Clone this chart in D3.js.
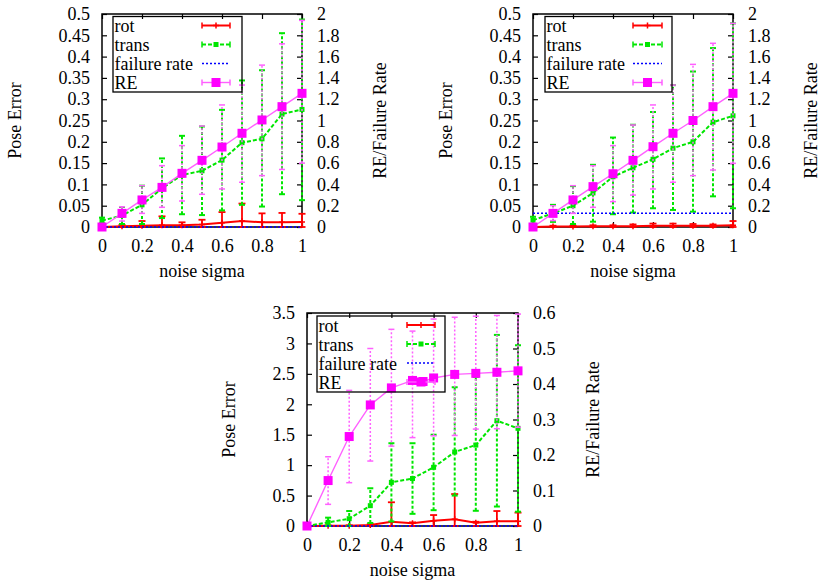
<!DOCTYPE html>
<html><head><meta charset="utf-8">
<script src="https://cdn.jsdelivr.net/npm/d3@7"></script>
<style>html,body{margin:0;padding:0;background:#fff;} svg{display:block;}</style>
</head><body><svg id="c" width="820" height="587"></svg>
<script>
// ---------- data ----------
const noiseSigma = [0, 0.1, 0.2, 0.3, 0.4, 0.5, 0.6, 0.7, 0.8, 0.9, 1.0];
const xTicks = [0, 0.2, 0.4, 0.6, 0.8, 1.0];
const xTickLabels = ["0", "0.2", "0.4", "0.6", "0.8", "1"];
const yTicksA = [0, 0.05, 0.1, 0.15, 0.2, 0.25, 0.3, 0.35, 0.4, 0.45, 0.5];
const yTickLabelsA = ["0", "0.05", "0.1", "0.15", "0.2", "0.25", "0.3", "0.35", "0.4", "0.45", "0.5"];
const y2TicksA = [0, 0.2, 0.4, 0.6, 0.8, 1.0, 1.2, 1.4, 1.6, 1.8, 2.0];
const y2TickLabelsA = ["0", "0.2", "0.4", "0.6", "0.8", "1", "1.2", "1.4", "1.6", "1.8", "2"];
const yTicksC = [0, 0.5, 1, 1.5, 2, 2.5, 3, 3.5];
const yTickLabelsC = ["0", "0.5", "1", "1.5", "2", "2.5", "3", "3.5"];
const y2TicksC = [0, 0.1, 0.2, 0.3, 0.4, 0.5, 0.6];
const y2TickLabelsC = ["0", "0.1", "0.2", "0.3", "0.4", "0.5", "0.6"];
const legendLabels = ["rot", "trans", "failure rate", "RE"];

// panel 1 (top left)
const rot1 = [0, 0.0015, 0.003, 0.004, 0.004, 0.006, 0.010, 0.014, 0.011, 0.011, 0.012];
const rot1Low = [0, 0, 0, 0, 0, 0, 0, 0, 0, 0, 0];
const rot1High = [0, 0.005, 0.014, 0.025, 0.011, 0.017, 0.035, 0.055, 0.032, 0.033, 0.031];
const trans1 = [0.015, 0.027, 0.052, 0.091, 0.122, 0.132, 0.157, 0.198, 0.207, 0.265, 0.276];
const trans1Low = [0.008, 0.007, 0.007, 0.021, 0.030, 0.028, 0.039, 0.052, 0.048, 0.077, 0.063];
const trans1High = [0.022, 0.047, 0.097, 0.161, 0.214, 0.236, 0.275, 0.344, 0.368, 0.455, 0.487];
const fail1 = [0, 0, 0, 0, 0, 0, 0, 0, 0, 0, 0];
const re1 = [0, 0.128, 0.254, 0.372, 0.504, 0.626, 0.751, 0.88, 1.005, 1.13, 1.255];
const re1Low = [0, 0.056, 0.128, 0.185, 0.244, 0.307, 0.357, 0.42, 0.482, 0.54, 0.6];
const re1High = [0, 0.19, 0.388, 0.576, 0.764, 0.948, 1.146, 1.333, 1.52, 1.72, 1.94];

// panel 2 (top right)
const rot2 = [0, 0.001, 0.001, 0.0015, 0.002, 0.002, 0.003, 0.003, 0.003, 0.003, 0.004];
const rot2Low = [0, 0, 0, 0, 0, 0, 0, 0, 0, 0, 0];
const rot2High = [0, 0.003, 0.003, 0.004, 0.004, 0.006, 0.008, 0.008, 0.007, 0.006, 0.014];
const trans2 = [0.016, 0.032, 0.05, 0.08, 0.118, 0.139, 0.159, 0.185, 0.2, 0.246, 0.261];
const trans2Low = [0.007, 0.012, 0.007, 0.0125, 0.03, 0.034, 0.044, 0.04, 0.036, 0.072, 0.044];
const trans2High = [0.024, 0.052, 0.096, 0.146, 0.21, 0.24, 0.27, 0.333, 0.365, 0.42, 0.478];
const fail2 = [0.128, 0.128, 0.128, 0.128, 0.128, 0.128, 0.128, 0.128, 0.128, 0.128, 0.128];
const re2 = [0, 0.128, 0.254, 0.379, 0.50, 0.626, 0.754, 0.88, 1.0, 1.13, 1.255];
const re2Low = [0, 0.06, 0.128, 0.185, 0.238, 0.3, 0.357, 0.42, 0.482, 0.535, 0.598];
const re2High = [0, 0.2, 0.388, 0.576, 0.764, 0.958, 1.146, 1.333, 1.527, 1.725, 1.912];

// panel 3 (bottom)
const rot3 = [0, 0.005, 0.005, 0.016, 0.071, 0.044, 0.088, 0.11, 0.055, 0.08, 0.08];
const rot3Low = [0, 0, 0, 0, 0, 0, 0, 0, 0, 0, 0];
const rot3High = [0, 0.01, 0.012, 0.03, 0.39, 0.06, 0.18, 0.525, 0.07, 0.246, 0.22];
const trans3 = [0, 0.06, 0.12, 0.334, 0.717, 0.78, 0.964, 1.216, 1.33, 1.73, 1.605];
const trans3Low = [0, 0, 0, 0.05, 0.075, 0.2, 0.26, 0.5, 0.25, 0.32, 0.235];
const trans3High = [0, 0.137, 0.246, 0.62, 1.36, 1.36, 1.50, 2.28, 2.45, 3.14, 2.97];
const fail3 = [0, 0, 0, 0, 0, 0, 0, 0, 0, 0, 0];
const re3X = [0, 0.1, 0.2, 0.3, 0.4, 0.5, 0.55, 0.6, 0.7, 0.8, 0.9, 1.0];
const re3 = [0, 0.128, 0.252, 0.341, 0.389, 0.41, 0.407, 0.417, 0.427, 0.430, 0.433, 0.437];
const re3Low = [0, 0.061, 0.122, 0.183, 0.225, 0.249, 0.407, 0.254, 0.255, 0.273, 0.274, 0.278];
const re3High = [0, 0.195, 0.382, 0.5, 0.554, 0.549, 0.407, 0.583, 0.588, 0.591, 0.593, 0.597];

// ---------- drawing ----------
const svg = d3.select('#c');
const FONT = '"Liberation Serif","Times New Roman",Times,serif';
const FS = 18;
const RED = '#ff0000', GREEN = '#00e600', BLUE = '#0000ff', MAG = '#ff00ff', MAGL = '#ff60ff';

function zip(xs, m, lo, hi) { return xs.map((xv, i) => ({x: xv, y: m[i], lo: lo ? lo[i] : m[i], hi: hi ? hi[i] : m[i]})); }

function drawPanel(cfg, d) {
  const x = d3.scaleLinear().domain([0, 1]).range([cfg.left, cfg.right]);
  const y = d3.scaleLinear().domain([0, cfg.yMax]).range([cfg.bottom, cfg.top]);
  const y2 = d3.scaleLinear().domain([0, cfg.y2Max]).range([cfg.bottom, cfg.top]);
  const g = svg.append('g');

  const styleAxis = (a) => {
    a.select('.domain').remove();
    a.selectAll('line').attr('stroke', '#000').attr('stroke-width', 1.2);
    a.selectAll('text').attr('font-family', FONT).attr('font-size', FS).attr('fill', '#000');
  };
  g.append('g').attr('transform', `translate(0,${cfg.bottom})`)
    .call(d3.axisBottom(x).tickValues(xTicks).tickFormat((v, i) => xTickLabels[i]).tickSizeInner(-5).tickSizeOuter(0).tickPadding(12))
    .call(styleAxis);
  g.append('g').attr('transform', `translate(0,${cfg.top})`)
    .call(d3.axisTop(x).tickValues(xTicks).tickFormat('').tickSizeInner(-5).tickSizeOuter(0))
    .call(styleAxis);
  g.append('g').attr('transform', `translate(${cfg.left},0)`)
    .call(d3.axisLeft(y).tickValues(cfg.yTicks).tickFormat((v, i) => cfg.yTickLabels[i]).tickSizeInner(-5).tickSizeOuter(0).tickPadding(12))
    .call(styleAxis);
  g.append('g').attr('transform', `translate(${cfg.right},0)`)
    .call(d3.axisRight(y2).tickValues(cfg.y2Ticks).tickFormat((v, i) => cfg.y2TickLabels[i]).tickSizeInner(-5).tickSizeOuter(0).tickPadding(15))
    .call(styleAxis);

  // axis titles
  g.append('text').attr('x', (cfg.left + cfg.right) / 2).attr('y', cfg.bottom + 50)
    .attr('text-anchor', 'middle').attr('font-family', FONT).attr('font-size', FS).text('noise sigma');
  g.append('text').attr('transform', `translate(${cfg.yLabelX + 6},${(cfg.top + cfg.bottom) / 2}) rotate(-90)`)
    .attr('text-anchor', 'middle').attr('font-family', FONT).attr('font-size', FS).text('Pose Error');
  g.append('text').attr('transform', `translate(${cfg.y2LabelX + 6},${(cfg.top + cfg.bottom) / 2}) rotate(-90)`)
    .attr('text-anchor', 'middle').attr('font-family', FONT).attr('font-size', FS).text('RE/Failure Rate');

  const plot = g.append('g');

  function series(pts, ys, st) {
    const sg = plot.append('g');
    if (st.err) {
      pts.forEach(p => {
        if (p.hi === p.lo) return;
        sg.append('line').attr('x1', x(p.x)).attr('x2', x(p.x)).attr('y1', ys(p.lo)).attr('y2', ys(p.hi))
          .attr('stroke', st.errColor).attr('stroke-width', st.errWidth).attr('stroke-dasharray', st.errDash || null);
        [p.lo, p.hi].forEach(v => {
          sg.append('line').attr('x1', x(p.x) - st.cap).attr('x2', x(p.x) + st.cap).attr('y1', ys(v)).attr('y2', ys(v))
            .attr('stroke', st.errColor).attr('stroke-width', st.errWidth);
        });
      });
    }
    sg.append('path').datum(pts)
      .attr('d', d3.line().x(p => x(p.x)).y(p => ys(p.y)))
      .attr('fill', 'none').attr('stroke', st.color).attr('stroke-width', st.width)
      .attr('stroke-dasharray', st.dash || null);
    if (st.marker) pts.forEach(p => st.marker(sg, x(p.x), ys(p.y)));
  }

  const plusMarker = (s, cx, cy) => {
    s.append('path').attr('d', `M${cx - 3},${cy}H${cx + 3}M${cx},${cy - 3}V${cy + 3}`).attr('stroke', RED).attr('stroke-width', 1.5);
  };
  const smallSq = (s, cx, cy) => {
    s.append('rect').attr('x', cx - 2.5).attr('y', cy - 2.5).attr('width', 5).attr('height', 5).attr('fill', GREEN);
  };
  const bigSq = (s, cx, cy) => {
    s.append('rect').attr('x', cx - 4.5).attr('y', cy - 4.5).attr('width', 9).attr('height', 9).attr('fill', MAG);
  };

  const stRot = {color: RED, width: 2, err: true, errColor: RED, errWidth: 1.8, cap: 3.5, marker: plusMarker};
  const stTrans = {color: GREEN, width: 2, dash: '4,2', err: true, errColor: GREEN, errWidth: 2, errDash: '3,2', cap: 3, marker: smallSq};
  const stFail = {color: BLUE, width: 1.5, dash: '2,2'};
  const stRE = {color: MAGL, width: 1.4, err: true, errColor: MAGL, errWidth: 1.5, errDash: '2,2', cap: 3, marker: bigSq};

  // border first, series over it
  g.insert('rect', ':first-child').attr('x', cfg.left).attr('y', cfg.top).attr('width', cfg.right - cfg.left).attr('height', cfg.bottom - cfg.top)
    .attr('fill', 'none').attr('stroke', '#000').attr('stroke-width', 1.5);

  series(d.rot, y, stRot);
  series(d.trans, y, stTrans);
  series(d.fail, y2, stFail);
  series(d.re, y2, stRE);

  // legend
  const L = cfg.legend;
  const lg = g.append('g');
  lg.append('rect').attr('x', L.x0).attr('y', L.y0).attr('width', L.x1 - L.x0).attr('height', L.y1 - L.y0)
    .attr('fill', 'none').attr('stroke', '#000').attr('stroke-width', 1.3);
  const sts = [stRot, stTrans, stFail, stRE];
  legendLabels.forEach((lab, i) => {
    const base = L.y0 + 15.5 + i * 19;
    lg.append('text').attr('x', L.x0 + 1.5).attr('y', base).attr('font-family', FONT).attr('font-size', FS).text(lab);
    const sy = base - 6.5, st = sts[i];
    lg.append('line').attr('x1', L.s0).attr('x2', L.s1).attr('y1', sy).attr('y2', sy)
      .attr('stroke', st.color).attr('stroke-width', st.width).attr('stroke-dasharray', st.dash || null);
    if (st.err) {
      [L.s0, L.s1].forEach(ex => lg.append('line').attr('x1', ex).attr('x2', ex).attr('y1', sy - 3).attr('y2', sy + 3)
        .attr('stroke', st.errColor).attr('stroke-width', 1.5));
    }
    if (st.marker) st.marker(lg, (L.s0 + L.s1) / 2, sy);
  });
}

drawPanel({id: 1, left: 102, right: 302, top: 14, bottom: 227, yMax: 0.5, y2Max: 2,
  yTicks: yTicksA, yTickLabels: yTickLabelsA, y2Ticks: y2TicksA, y2TickLabels: y2TickLabelsA,
  yLabelX: 15, y2LabelX: 380,
  legend: {x0: 113, x1: 242, y0: 16.5, y1: 92, s0: 202, s1: 230}},
  {rot: zip(noiseSigma, rot1, rot1Low, rot1High), trans: zip(noiseSigma, trans1, trans1Low, trans1High),
   fail: zip(noiseSigma, fail1), re: zip(noiseSigma, re1, re1Low, re1High)});

drawPanel({id: 2, left: 533, right: 733, top: 14, bottom: 227, yMax: 0.5, y2Max: 2,
  yTicks: yTicksA, yTickLabels: yTickLabelsA, y2Ticks: y2TicksA, y2TickLabels: y2TickLabelsA,
  yLabelX: 446, y2LabelX: 811,
  legend: {x0: 545, x1: 672, y0: 16.5, y1: 92, s0: 633, s1: 662}},
  {rot: zip(noiseSigma, rot2, rot2Low, rot2High), trans: zip(noiseSigma, trans2, trans2Low, trans2High),
   fail: zip(noiseSigma, fail2), re: zip(noiseSigma, re2, re2Low, re2High)});

drawPanel({id: 3, left: 307, right: 518, top: 313, bottom: 526, yMax: 3.5, y2Max: 0.6,
  yTicks: yTicksC, yTickLabels: yTickLabelsC, y2Ticks: y2TicksC, y2TickLabels: y2TickLabelsC,
  yLabelX: 229, y2LabelX: 593,
  legend: {x0: 317, x1: 445, y0: 316, y1: 392, s0: 407, s1: 435}},
  {rot: zip(noiseSigma, rot3, rot3Low, rot3High), trans: zip(noiseSigma, trans3, trans3Low, trans3High),
   fail: zip(noiseSigma, fail3), re: zip(re3X, re3, re3Low, re3High)});
</script>
</body></html>
